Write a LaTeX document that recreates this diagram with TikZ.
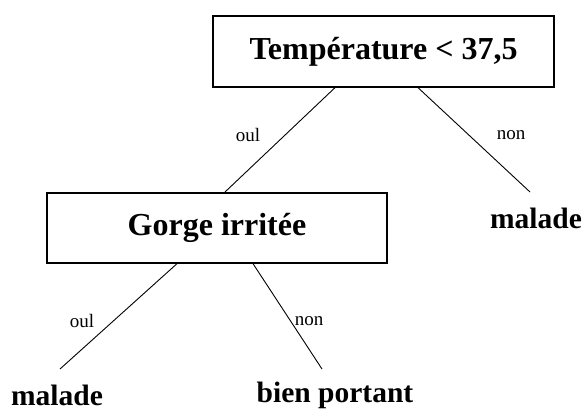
\documentclass[tikz,border=0pt]{standalone}
\usepackage{fontspec}
\setmainfont{Liberation Serif}
\usetikzlibrary{calc}
\begin{document}
\begin{tikzpicture}[x=1pt,y=-1pt,
  box/.style={draw,line width=1.3pt,minimum width=341pt,minimum height=71pt,inner sep=0pt,font=\fontsize{32}{36}\selectfont\bfseries},
  leaf/.style={inner sep=0pt,font=\fontsize{29.5}{33}\selectfont\bfseries},
  lbl/.style={inner sep=0pt,font=\fontsize{19}{22}\selectfont},
  edge/.style={line width=0.9pt}]
\useasboundingbox (0,0) rectangle (588,410);
\node[box] (top) at (383.5,51.5) {Température < 37,5};
\node[box,minimum width=340pt,minimum height=70pt] (gorge) at (217,228) {Gorge irritée};
\node[leaf] (m1) at (536,218) {malade};
\node[leaf] (m2) at (57,395) {malade};
\node[leaf] (bp) at (335,395) {bien portant};
\coordinate (e1) at (225,192);
\coordinate (e2) at (530,192);
\coordinate (e3) at (60,369);
\coordinate (e4) at (322,369);
\draw[edge] ([xshift=-48.5pt]top.south) -- (e1);
\draw[edge] ([xshift=34.5pt]top.south) -- (e2);
\draw[edge] ([xshift=-40pt]gorge.south) -- (e3);
\draw[edge] ([xshift=36pt]gorge.south) -- (e4);
\node[lbl] (l1) at (248,135) {oul};
\node[lbl] (l2) at (511,135) {non};
\node[lbl] (l3) at (82,321) {oul};
\node[lbl] (l4) at (309,321) {non};
\end{tikzpicture}
\end{document}
